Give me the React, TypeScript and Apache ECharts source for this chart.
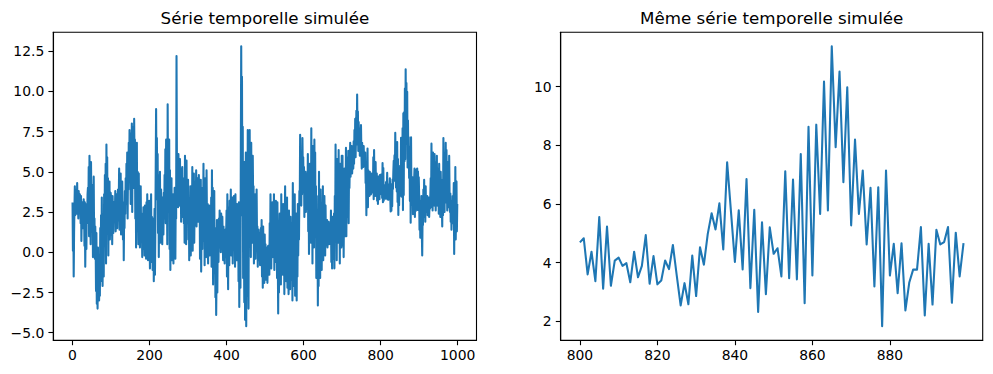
import React, { useEffect, useRef } from "react";
import * as echarts from "echarts";

// Left panel: simulated series, indices 0..799
const SERIES_0_799: number[] = [
  3.1, 0.1, 2.4, -1.5, 1.2, 2.8, 4.1, 2.3, 3.6, 2.6,
  3.9, 2.4, 4.3, 2.9, 3.4, 2.1, 3.8, 3.0, 2.5, 3.6,
  3.2, 1.8, 3.5, 0.7, 2.4, 3.1, 1.5, 2.9, 2.0, 3.3,
  2.6, 0.4, 3.1, -0.9, 1.3, 2.5, 0.2, 3.0, 1.8, 3.6,
  4.0, 2.2, 5.3, 1.0, 6.0, 3.1, 4.8, 0.5, 5.6, 2.7,
  4.2, 1.4, 3.5, -0.3, 2.8, 4.7, 0.9, 2.1, -0.4, 1.6,
  0.5, -2.4, 1.2, -3.2, -0.8, -3.5, 0.3, -2.6, -1.4, -3.0,
  -0.6, -2.7, 1.5, -1.8, 2.3, -0.9, 3.4, 0.2, -2.1, 1.0,
  1.8, -1.5, 3.6, 0.4, 4.8, 1.2, 5.5, -0.7, 6.7, 2.9,
  5.9, 1.3, 4.6, -0.2, 3.5, 2.2, 4.4, 0.8, 2.6, 3.7,
  3.4, 1.1, 2.7, 0.5, 3.5, 2.0, 1.2, 3.1, 1.9, 2.8,
  2.4, 3.8, 1.3, 3.1, 2.2, 3.6, 1.5, 2.8, 3.9, 2.0,
  3.2, 5.2, 1.4, 4.3, 2.5, 4.9, 1.1, 3.7, 2.0, 4.4,
  2.7, 0.8, 3.1, -0.5, 2.3, 1.5, 3.8, 2.4, 4.6, 3.0,
  5.5, 3.6, 6.2, 2.1, 5.0, 3.9, 6.8, 4.4, 7.6, 5.1,
  6.3, 3.0, 7.4, 4.8, 8.0, 2.5, 6.9, 5.2, 7.8, 4.0,
  8.3, 5.6, 7.0, 2.1, 6.1, 0.3, 4.2, 6.8, 1.4, 5.0,
  3.2, 0.5, 4.9, 1.8, 3.6, 0.3, 2.7, 4.1, 1.2, 2.4,
  1.9, -0.3, 2.1, 0.6, 2.8, 0.2, 1.5, -0.2, 2.9, 1.0,
  2.3, -0.4, 3.1, 0.8, 3.6, 1.4, -0.5, 2.5, 0.9, 3.2,
  1.6, -1.0, 2.8, 0.3, 3.6, -0.6, 2.2, 1.1, -1.1, 0.8,
  2.1, -1.8, 0.9, 2.7, -1.4, 1.5, 5.2, 8.9, 4.6, 7.1,
  3.3, 6.1, 1.2, 4.8, -0.3, 3.5, 1.9, 5.0, 0.6, 2.8,
  3.9, 1.4, 2.6, 0.5, 3.4, 2.0, 1.1, 3.7, 2.5, 4.8,
  2.1, 6.4, 1.8, 7.0, 3.5, 5.2, 0.5, 9.2, 4.3, 6.8,
  2.6, 7.0, 0.2, 5.1, -1.1, 3.8, 1.4, 4.6, -0.5, 2.9,
  1.2, 3.6, -0.7, 2.4, 0.5, 4.0, 1.8, -0.4, 3.2, 2.1,
  12.2, 6.0, 3.1, 5.4, 2.8, 6.1, 3.9, 4.7, 2.9, 5.8,
  3.3, 5.2, 1.9, 4.4, 2.6, 5.3, 2.2, 4.0, 3.5, 1.8,
  4.6, 0.6, 6.0, 2.9, 4.1, 0.5, 5.7, 1.8, 3.6, 2.4,
  4.5, 0.8, 3.2, -0.5, 2.6, 1.4, 4.1, -0.2, 2.0, 3.3,
  1.1, 5.3, 0.1, 3.8, 2.2, 4.9, 0.6, 3.0, 1.7, 4.4,
  2.5, 5.1, 1.6, 3.9, 2.3, 4.6, 1.9, 3.4, 4.8, 2.7,
  3.6, -0.4, 2.1, 4.5, -1.2, 1.8, 3.3, 0.2, 4.0, 1.5,
  5.5, 0.7, 3.8, -0.8, 4.6, 1.9, 2.8, -0.3, 5.1, 2.2,
  1.4, 3.0, -0.7, 2.2, 0.8, 2.9, -0.2, 1.6, 2.5, 0.3,
  3.4, -0.9, 5.1, 1.2, 4.0, -2.0, 2.6, 0.4, 3.8, -1.3,
  1.5, -2.8, 0.6, -3.9, -1.2, 2.0, -2.5, 0.9, 1.6, -0.6,
  2.1, 0.3, 2.6, 0.9, 1.8, 0.0, 2.4, 1.2, 0.6, 2.2,
  0.8, -0.5, 1.6, 0.2, 1.1, -0.7, 1.4, 0.5, -0.3, 1.3,
  2.6, -1.5, 3.6, 0.4, -2.3, 1.9, 2.8, -0.8, 3.2, 0.7,
  1.5, 3.9, -0.2, 2.7, 0.6, 3.4, -0.7, 2.1, 1.2, 3.5,
  0.4, 2.8, -0.9, 3.6, 1.1, 2.0, -0.5, 3.0, 1.7, 0.2,
  2.4, -1.8, 3.1, -3.4, 0.6, 2.7, -2.2, 6.5, 12.8, 5.4,
  10.9, 2.3, 7.8, -1.6, 4.5, 0.8, -3.1, 5.6, -4.2, 2.4,
  6.2, -4.6, 1.5, 4.8, -2.7, 7.6, 0.9, -3.5, 5.1, 2.3,
  7.6, 1.2, 5.4, -0.3, 6.8, 2.5, 4.1, 0.6, 6.0, 3.2,
  4.1, -0.7, 2.9, 1.3, 3.6, -0.4, 2.2, 0.5, 3.9, 1.1,
  1.6, -0.9, 0.8, 1.4, -0.5, 0.3, 1.2, -0.8, 0.6, 1.5,
  0.2, 2.0, -1.5, 0.9, -2.2, 1.6, -0.6, 0.4, -1.9, 1.1,
  -0.4, 0.5, -1.7, -0.2, -1.1, 0.3, -1.9, -0.6, 0.4, -1.3,
  0.2, -1.4, 1.8, -0.5, 3.6, 0.7, -1.0, 2.4, 1.1, 3.1,
  -0.3, 2.6, 0.4, 3.6, -1.1, 1.9, 2.8, -0.6, 3.2, 1.0,
  2.3, -1.6, 3.1, -0.4, -3.8, 1.2, -2.5, 0.6, 2.4, -1.9,
  1.0, -2.0, 3.6, -0.7, 2.1, 0.5, -1.4, 3.0, 0.2, 1.7,
  -2.6, 1.3, 4.1, -0.9, 2.5, -1.8, 0.7, 3.4, -2.2, 1.6,
  0.1, -2.6, 2.6, -1.2, 1.0, -2.3, 2.2, -0.4, 0.9, -1.7,
  1.8, -3.0, 4.3, 0.2, -2.1, 2.9, -0.8, 3.6, -2.7, 1.1,
  -0.6, 2.4, -3.0, 1.7, -1.5, 3.0, -0.2, 2.1, 0.8, 3.8,
  3.2, 7.3, 4.1, 6.2, 2.9, 5.7, 3.6, 7.1, 4.6, 5.9,
  3.8, 5.3, 2.2, 4.6, 3.1, 5.0, 2.5, 4.2, 3.4, 4.9,
  2.7, 6.1, 1.3, 4.4, -0.1, 3.6, 5.5, 1.8, 4.8, 0.6,
  7.7, 2.4, 5.8, -0.7, 6.6, 1.5, 4.9, 0.3, 7.0, 3.1,
  6.2, 1.0, 4.1, -1.6, 3.5, -0.4, 2.0, -3.3, 1.3, -2.1,
  5.0, -0.8, 2.7, -1.6, 3.9, 0.5, 1.8, -1.1, 2.3, 0.9,
  4.1, -0.5, 2.6, 0.7, 3.5, 1.4, -0.2, 2.9, 0.4, 2.0,
  1.2, 2.0, 0.3, 1.7, 0.8, 1.9, 0.5, 1.4, 0.6, 1.8,
  0.5, 2.6, -0.6, 1.6, -1.0, 2.2, 0.1, 1.3, -0.4, 2.4,
  -1.0, 3.5, 0.8, 6.7, 1.9, 4.6, -0.5, 5.8, 2.4, 4.0,
  0.6, 6.35, 2.2, 4.9, -0.7, 5.5, 1.6, 3.7, 0.3, 6.0,
  2.8, 6.0, 0.4, 4.5, -0.3, 3.3, 5.2, 1.0, 4.1, 2.6,
  6.5, 1.0, 4.8, 2.2, 5.9, 3.1, 6.3, 1.8, 5.2, 4.0,
  5.4, 6.8, 4.7, 6.1, 5.0, 6.6, 4.9, 5.8, 6.4, 5.2,
  6.9, 5.5, 7.6, 6.2, 8.3, 5.9, 7.1, 8.8, 6.7, 9.8,
  7.4, 8.75, 6.3, 8.1, 6.9, 7.7, 6.0, 7.3, 6.5, 7.9,
  6.4, 5.2, 6.8, 5.6, 6.3, 5.3, 6.6, 5.8, 6.1, 5.4,
  6.2, 4.3, 5.5, 2.3, 4.9, 3.6, 6.45, 2.8, 5.1, 3.9,
  4.6, 3.5, 5.0, 3.8, 4.4, 3.6, 4.9, 3.9, 4.2, 4.8,
  3.7, 5.9, 3.3, 6.35, 4.1, 5.2, 3.5, 5.6, 3.9, 4.6,
  4.9, 3.2, 4.4, 3.0, 4.7, 3.6, 4.2, 3.3, 4.8, 3.9,
];

// Indices 800..899 (shown in both panels)
const SERIES_800_899: number[] = [
  4.69, 4.83, 3.60, 4.37, 3.37, 5.55, 3.11, 5.23, 3.21, 4.07,
  4.17, 3.89, 3.98, 3.33, 4.37, 3.50, 3.89, 4.94, 3.28, 4.22,
  3.26, 3.39, 4.07, 3.78, 4.60, 3.56, 2.54, 3.30, 2.58, 4.24,
  2.86, 4.52, 3.93, 4.98, 5.68, 5.13, 6.02, 4.45, 7.42, 5.72,
  4.02, 5.78, 3.77, 6.85, 3.13, 5.80, 2.32, 5.37, 2.92, 5.20,
  4.30, 4.49, 3.53, 7.11, 3.47, 6.83, 3.43, 7.70, 2.62, 8.63,
  3.56, 8.70, 5.66, 10.17, 5.78, 11.37, 7.93, 10.51, 6.74, 9.97,
  5.27, 8.19, 5.66, 7.14, 4.62, 6.55, 3.19, 6.57, 1.83, 7.14,
  3.56, 4.64, 2.96, 4.66, 2.37, 3.32, 3.76, 3.76, 5.21, 2.20,
  4.64, 2.57, 5.12, 4.62, 4.70, 5.21, 2.63, 5.02, 3.53, 4.66,
];

// Indices 900..999
const SERIES_900_999: number[] = [
  3.6, 1.4, 3.2, 0.9, 2.6, 1.8, 3.5, 1.2, -0.2, 2.4,
  1.7, 3.9, 2.2, 4.5, 2.8, 3.6, 1.9, 4.1, 2.5, 3.3,
  2.9, 3.5, 2.3, 3.2, 2.6, 3.4, 2.2, 3.0, 2.7, 3.5,
  4.6, 2.8, 6.75, 3.4, 5.5, 2.6, 6.2, 3.9, 5.1, 2.9,
  6.1, 3.3, 5.6, 2.6, 4.8, 3.8, 6.0, 2.9, 5.2, 3.5,
  4.4, 2.4, 5.5, 3.1, 4.7, 2.2, 5.0, 3.6, 4.1, 2.8,
  1.6, 4.5, 2.3, 7.1, 3.4, 6.2, 2.5, 5.4, 3.9, 6.8,
  3.1, 6.35, 4.2, 2.6, 5.6, 3.5, 4.9, 2.8, 6.0, 3.7,
  2.5, 3.65, 1.9, 3.2, 1.4, 2.8, 2.2, 3.5, 1.8, 2.9,
  4.3, -0.1, 3.1, 1.6, 5.3, 0.8, 2.6, 4.4, 1.3, 3.0,
];

const RIGHT_START = 800;
const LEFT_X_TICKS = [0, 200, 400, 600, 800, 1000];
const LEFT_Y_TICKS = [-5, -2.5, 0, 2.5, 5, 7.5, 10, 12.5];
const RIGHT_X_TICKS = [800, 820, 840, 860, 880];
const RIGHT_Y_TICKS = [2, 4, 6, 8, 10];
const TITLE_LEFT = "Série temporelle simulée";
const TITLE_RIGHT = "Même série temporelle simulée";

const FONT = "DejaVu Sans";
const LINE_COLOR = "#1f77b4";

function padRange(vals: number[]) {
  const lo = Math.min(...vals);
  const hi = Math.max(...vals);
  const p = (hi - lo) * 0.05;
  return [lo - p, hi + p];
}

const fmtMinus = (v: number, d: number) =>
  (v < 0 ? "\u2212" : "") + Math.abs(v).toFixed(d);

export default function App() {
  const ref = useRef<HTMLDivElement>(null);

  useEffect(() => {
    if (!ref.current) return;
    const chart = echarts.init(ref.current, undefined, { renderer: "svg" });

    const full = [...SERIES_0_799, ...SERIES_800_899, ...SERIES_900_999];
    const leftData = full.map((v, i) => [i, v]);
    const rightData = SERIES_800_899.map((v, i) => [RIGHT_START + i, v]);

    const [lyMin, lyMax] = padRange(full);
    const [ryMin, ryMax] = padRange(SERIES_800_899);
    const lxPad = (full.length - 1) * 0.05;
    const rxPad = (SERIES_800_899.length - 1) * 0.05;

    const G1 = { left: 53.3, top: 32.3, width: 423.2, height: 308 };
    const G2 = { left: 560.7, top: 32.3, width: 422, height: 308 };

    const axisCommon = {
      type: "value" as const,
      splitLine: { show: false },
      axisLine: { show: true, onZero: false, lineStyle: { color: "#000", width: 1.1 } },
      axisTick: { show: true, inside: false, length: 4.9, lineStyle: { color: "#000", width: 1.1 } },
    };
    const labelCommon = {
      color: "#000",
      fontFamily: FONT,
      fontSize: 13.9,
    };

    chart.setOption({
      animation: false,
      backgroundColor: "#fff",
      grid: [
        { ...G1, show: true, borderColor: "#000", borderWidth: 1.1, containLabel: false },
        { ...G2, show: true, borderColor: "#000", borderWidth: 1.1, containLabel: false },
      ],
      xAxis: [
        {
          ...axisCommon,
          gridIndex: 0,
          min: -lxPad,
          max: full.length - 1 + lxPad,
          axisTick: { ...axisCommon.axisTick, customValues: LEFT_X_TICKS },
          axisLabel: { ...labelCommon, margin: 8, customValues: LEFT_X_TICKS, formatter: (v: number) => String(v) },
        },
        {
          ...axisCommon,
          gridIndex: 1,
          min: RIGHT_START - rxPad,
          max: RIGHT_START + SERIES_800_899.length - 1 + rxPad,
          axisTick: { ...axisCommon.axisTick, customValues: RIGHT_X_TICKS },
          axisLabel: { ...labelCommon, margin: 8, customValues: RIGHT_X_TICKS, formatter: (v: number) => String(v) },
        },
      ],
      yAxis: [
        {
          ...axisCommon,
          gridIndex: 0,
          min: lyMin,
          max: lyMax,
          axisTick: { ...axisCommon.axisTick, customValues: LEFT_Y_TICKS },
          axisLabel: { ...labelCommon, margin: 9, customValues: LEFT_Y_TICKS, formatter: (v: number) => fmtMinus(v, 1) },
        },
        {
          ...axisCommon,
          gridIndex: 1,
          min: ryMin,
          max: ryMax,
          axisTick: { ...axisCommon.axisTick, customValues: RIGHT_Y_TICKS },
          axisLabel: { ...labelCommon, margin: 9, customValues: RIGHT_Y_TICKS, formatter: (v: number) => fmtMinus(v, 0) },
        },
      ],
      graphic: [
        {
          type: "text",
          x: G1.left + G1.width / 2,
          y: 18,
          style: { text: TITLE_LEFT, fontFamily: FONT, fontSize: 16.7, fill: "#000", align: "center", verticalAlign: "middle" },
        },
        {
          type: "text",
          x: G2.left + G2.width / 2,
          y: 18,
          style: { text: TITLE_RIGHT, fontFamily: FONT, fontSize: 16.7, fill: "#000", align: "center", verticalAlign: "middle" },
        },
      ],
      series: [
        {
          type: "line",
          xAxisIndex: 0,
          yAxisIndex: 0,
          data: leftData,
          showSymbol: false,
          symbol: "none",
          lineStyle: { color: LINE_COLOR, width: 2.08, join: "round" },
          z: 3,
        },
        {
          type: "line",
          xAxisIndex: 1,
          yAxisIndex: 1,
          data: rightData,
          showSymbol: false,
          symbol: "none",
          lineStyle: { color: LINE_COLOR, width: 2.08, join: "round" },
          z: 3,
        },
      ],
    });

    return () => chart.dispose();
  }, []);

  return (
    <div
      ref={ref}
      style={{ position: "fixed", left: 0, top: 0, width: 993, height: 374, background: "#fff" }}
    />
  );
}
